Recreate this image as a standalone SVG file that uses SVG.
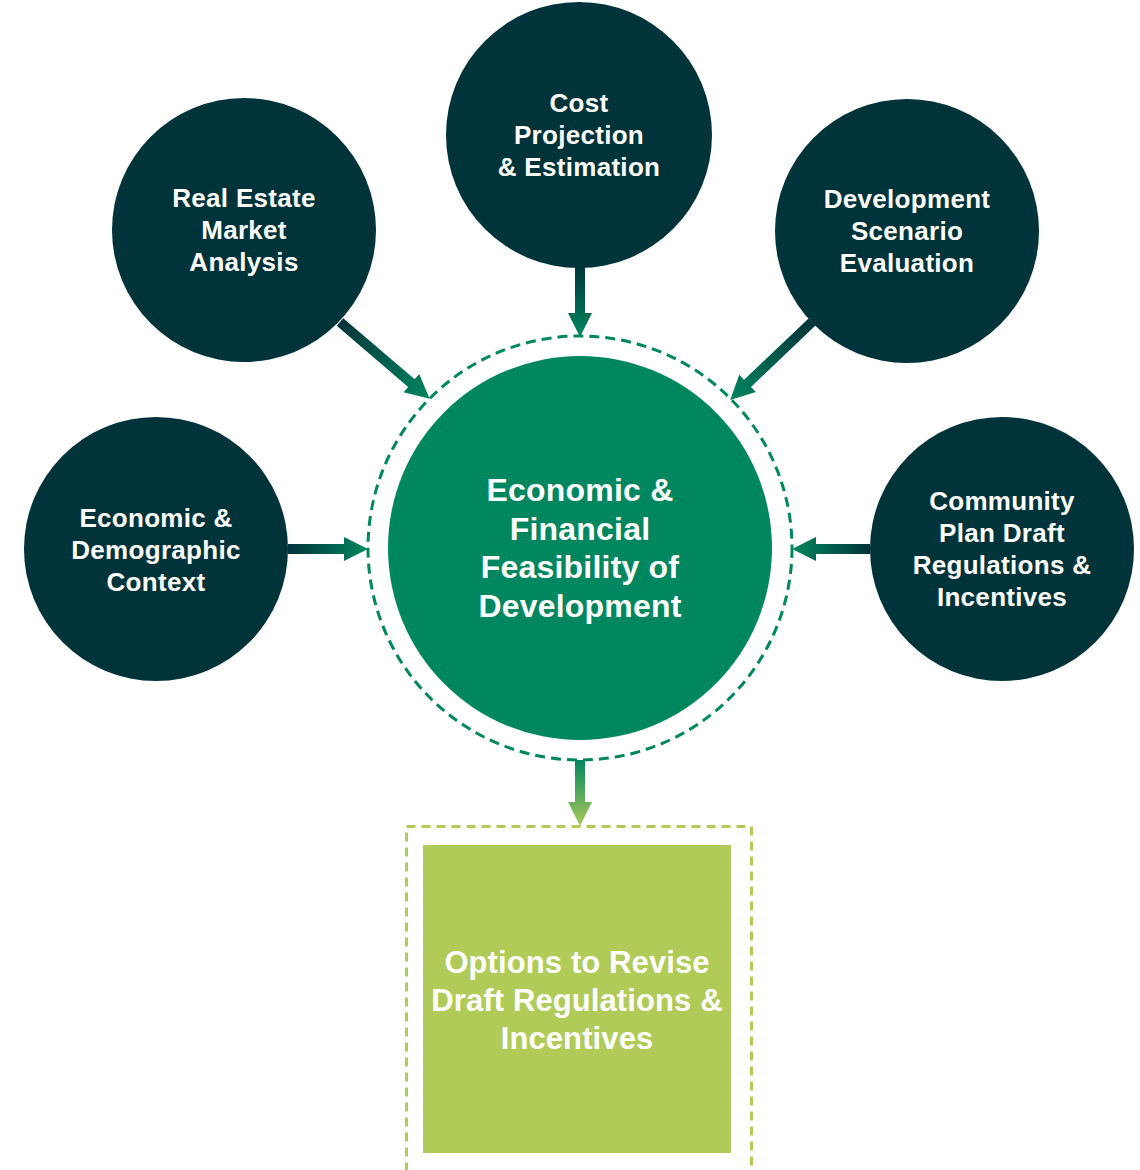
<svg xmlns="http://www.w3.org/2000/svg" width="1140" height="1170" viewBox="0 0 1140 1170">
<defs>
<linearGradient id="gArrow" x1="0" y1="0" x2="1" y2="0">
<stop offset="0" stop-color="#00333a"/>
<stop offset="1" stop-color="#00875f"/>
</linearGradient>
<linearGradient id="gArrow2" x1="0" y1="0" x2="1" y2="0">
<stop offset="0" stop-color="#00875f"/>
<stop offset="1" stop-color="#a9c95a"/>
</linearGradient>
<style>
.sat{fill:#00333a}
.t{font-family:"Liberation Sans",Arial,sans-serif;font-weight:bold;fill:#ffffff;text-anchor:middle}
.ts{font-size:26px;letter-spacing:0.3px}
.tc{font-size:32px;letter-spacing:0.2px}
.tb{font-size:31px;letter-spacing:0.1px}
</style>
</defs>
<rect width="1140" height="1170" fill="#ffffff"/>

<g id="connectors">
<path transform="translate(580,264) rotate(90)" d="M0,-5 H49 V-12 L73,0 L49,12 V5 H0 Z" fill="url(#gArrow)"/>
<path transform="translate(340,322) rotate(40.55)" d="M0,-5 H94 V-12 L118,0 L94,12 V5 H0 Z" fill="url(#gArrow)"/>
<path transform="translate(812,322) rotate(136.4)" d="M0,-5 H89 V-12 L113,0 L89,12 V5 H0 Z" fill="url(#gArrow)"/>
<path transform="translate(288,549) rotate(0)" d="M0,-5 H56 V-12 L80,0 L56,12 V5 H0 Z" fill="url(#gArrow)"/>
<path transform="translate(870,549) rotate(180)" d="M0,-5 H54 V-12 L78,0 L54,12 V5 H0 Z" fill="url(#gArrow)"/>
<path transform="translate(580,760) rotate(90)" d="M0,-5 H42 V-12 L66,0 L42,12 V5 H0 Z" fill="url(#gArrow2)"/>
</g>

<g id="node-center">
<circle cx="580" cy="548" r="212" fill="none" stroke="#00875f" stroke-width="3" stroke-dasharray="10 6"/>
<circle cx="580" cy="548" r="192" fill="#00875f"/>
<text class="t tc" x="580" y="501">Economic &amp;</text>
<text class="t tc" x="580" y="540">Financial</text>
<text class="t tc" x="580" y="578">Feasibility of</text>
<text class="t tc" x="580" y="617">Development</text>
</g>

<g id="node-cost">
<circle class="sat" cx="579" cy="135" r="133"/>
<text class="t ts" x="579" y="112">Cost</text>
<text class="t ts" x="579" y="144">Projection</text>
<text class="t ts" x="579" y="176">&amp; Estimation</text>
</g>

<g id="node-realestate">
<circle class="sat" cx="244" cy="230" r="132"/>
<text class="t ts" x="244" y="207">Real Estate</text>
<text class="t ts" x="244" y="239">Market</text>
<text class="t ts" x="244" y="271">Analysis</text>
</g>

<g id="node-development">
<circle class="sat" cx="907" cy="231" r="132"/>
<text class="t ts" x="907" y="208">Development</text>
<text class="t ts" x="907" y="240">Scenario</text>
<text class="t ts" x="907" y="272">Evaluation</text>
</g>

<g id="node-economic">
<circle class="sat" cx="156" cy="549" r="132"/>
<text class="t ts" x="156" y="527">Economic &amp;</text>
<text class="t ts" x="156" y="559">Demographic</text>
<text class="t ts" x="156" y="591">Context</text>
</g>

<g id="node-community">
<circle class="sat" cx="1002" cy="549" r="132"/>
<text class="t ts" x="1002" y="510">Community</text>
<text class="t ts" x="1002" y="542">Plan Draft</text>
<text class="t ts" x="1002" y="574">Regulations &amp;</text>
<text class="t ts" x="1002" y="606">Incentives</text>
</g>

<g id="node-options">
<rect x="406.5" y="826.5" width="345" height="360" fill="none" stroke="#b0cb57" stroke-width="3" stroke-dasharray="9 6"/>
<rect x="423" y="845" width="308" height="308" fill="#b0cb57"/>
<text class="t tb" x="577" y="973">Options to Revise</text>
<text class="t tb" x="577" y="1011">Draft Regulations &amp;</text>
<text class="t tb" x="577" y="1049">Incentives</text>
</g>
</svg>
